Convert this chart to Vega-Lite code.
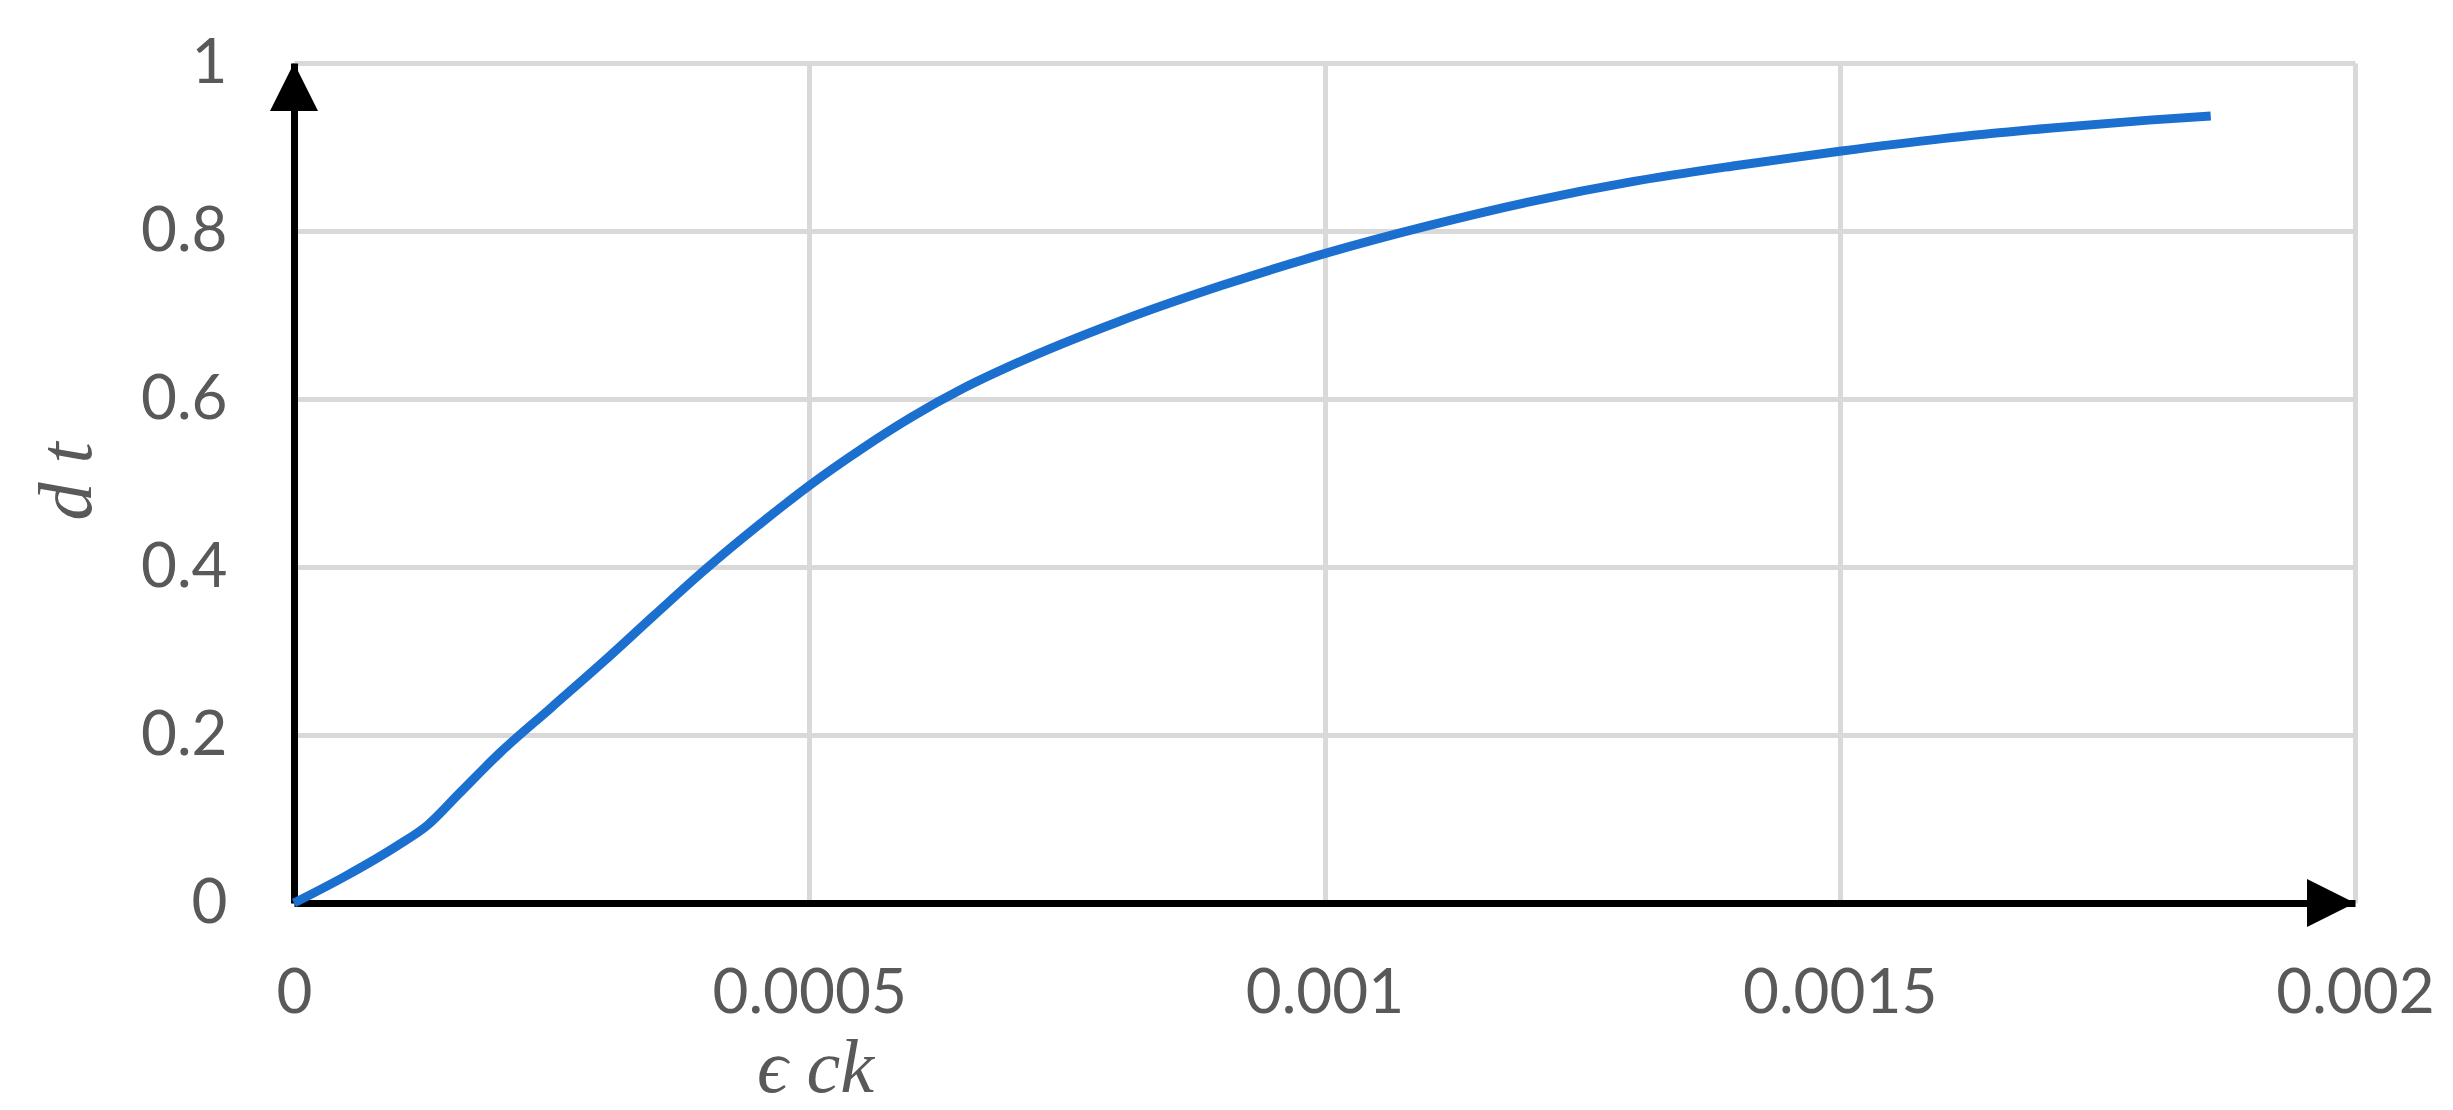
{
  "$schema": "https://vega.github.io/schema/vega-lite/v6.json",
  "width": 2061,
  "height": 840,
  "autosize": {"type": "none"},
  "padding": {"left": 294, "top": 63, "right": 98, "bottom": 207},
  "background": "white",
  "config": {
    "view": {"stroke": null},
    "axis": {
      "labelFont": "Lato",
      "labelFontSize": 62,
      "labelColor": "#595959",
      "labelLimit": 0,
      "titleFont": "Liberation Serif, DejaVu Serif",
      "titleFontStyle": "italic",
      "titleFontWeight": "normal",
      "titleFontSize": 76,
      "titleColor": "#595959",
      "gridColor": "#d9d9d9",
      "gridWidth": 5,
      "gridOpacity": 1,
      "domainColor": "#000000",
      "domainWidth": 7,
      "ticks": false,
      "tickSize": 0
    }
  },
  "layer": [
    {
      "data": {
        "values": [
          {"eck": 0, "dt": 0},
          {"eck": 0.00005, "dt": 0.032},
          {"eck": 0.0001, "dt": 0.068},
          {"eck": 0.00013, "dt": 0.093},
          {"eck": 0.00016, "dt": 0.130},
          {"eck": 0.0002, "dt": 0.179},
          {"eck": 0.00025, "dt": 0.233},
          {"eck": 0.0003, "dt": 0.287},
          {"eck": 0.00035, "dt": 0.343},
          {"eck": 0.0004, "dt": 0.398},
          {"eck": 0.00045, "dt": 0.449},
          {"eck": 0.0005, "dt": 0.497},
          {"eck": 0.00055, "dt": 0.540},
          {"eck": 0.0006, "dt": 0.579},
          {"eck": 0.00065, "dt": 0.613},
          {"eck": 0.0007, "dt": 0.642},
          {"eck": 0.0008, "dt": 0.692},
          {"eck": 0.0009, "dt": 0.735},
          {"eck": 0.001, "dt": 0.773},
          {"eck": 0.0011, "dt": 0.806},
          {"eck": 0.0012, "dt": 0.835},
          {"eck": 0.0013, "dt": 0.859},
          {"eck": 0.0014, "dt": 0.878},
          {"eck": 0.0015, "dt": 0.895},
          {"eck": 0.0016, "dt": 0.910},
          {"eck": 0.0017, "dt": 0.922},
          {"eck": 0.0018, "dt": 0.932},
          {"eck": 0.00186, "dt": 0.937}
        ]
      },
      "mark": {"type": "line", "interpolate": "monotone", "strokeWidth": 9, "color": "#1a6fcf", "strokeCap": "butt"},
      "encoding": {
        "x": {
          "field": "eck",
          "type": "quantitative",
          "scale": {"domain": [0, 0.002], "nice": false},
          "axis": {
            "title": "ϵ ck",
            "values": [0, 0.0005, 0.001, 0.0015, 0.002],
            "format": "~g",
            "labelPadding": 60,
            "labelFlush": false,
            "titleX": 521,
            "titleY": 188,
            "titleAlign": "center",
            "titleBaseline": "alphabetic"
          }
        },
        "y": {
          "field": "dt",
          "type": "quantitative",
          "scale": {"domain": [0, 1], "nice": false},
          "axis": {
            "title": "d t",
            "values": [0, 0.2, 0.4, 0.6, 0.8, 1],
            "format": "~g",
            "labelPadding": 67,
            "labelFlush": false,
            "titleX": -204,
            "titleY": 418,
            "titleAngle": 270,
            "titleAlign": "center",
            "titleBaseline": "alphabetic"
          }
        }
      }
    },
    {
      "data": {"values": [{"eck": 0, "dt": 1}]},
      "mark": {"type": "point", "shape": "M0,0L1,2L-1,2Z", "size": 2304, "filled": true, "color": "#000000", "opacity": 1, "strokeWidth": 0},
      "encoding": {
        "x": {"field": "eck", "type": "quantitative"},
        "y": {"field": "dt", "type": "quantitative"}
      }
    },
    {
      "data": {"values": [{"eck": 0.002, "dt": 0}]},
      "mark": {"type": "point", "shape": "M0,0L-2,-1L-2,1Z", "size": 2304, "filled": true, "color": "#000000", "opacity": 1, "strokeWidth": 0},
      "encoding": {
        "x": {"field": "eck", "type": "quantitative"},
        "y": {"field": "dt", "type": "quantitative"}
      }
    }
  ]
}
